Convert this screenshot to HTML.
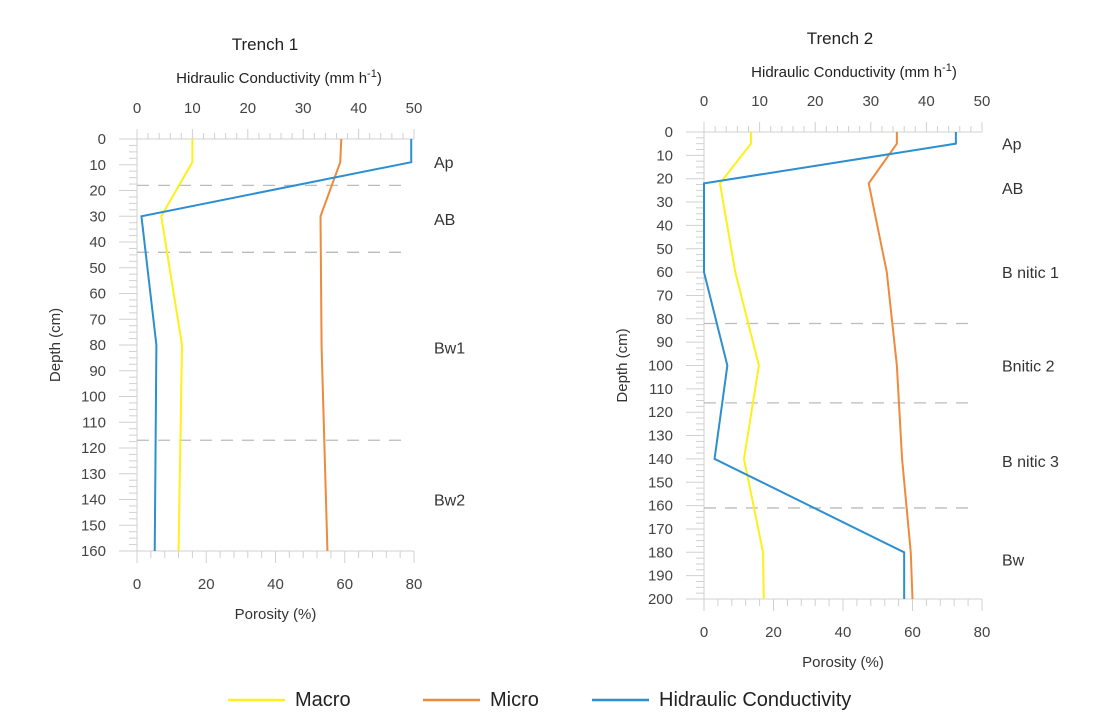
<!DOCTYPE html>
<html><head><meta charset="utf-8"><style>
body{margin:0;background:#fff;}
svg{display:block;font-family:"Liberation Sans",Arial,sans-serif;}
</style></head><body>
<svg id="c" width="1117" height="724" viewBox="0 0 1117 724"></svg>
<script>
// Trench 1 data (depth cm)
const t1Depth=[0,9,30,80,160];
const t1Macro=[16,16,7,13,12];
const t1Micro=[59,58.7,53,53.3,55];
const t1Hyd=[49.5,49.5,0.8,3.5,3.2];
const t1Horizons=["Ap","AB","Bw1","Bw2"];
const t1HorizonDepth=[9,31,81,140];
const t1Bounds=[18,44,117];
const t1DepthTicks=[0,10,20,30,40,50,60,70,80,90,100,110,120,130,140,150,160];
// Trench 2 data
const t2Depth=[0,5,22,60,100,140,180,200];
const t2Macro=[13.5,13.5,4.6,9,15.8,11.5,17,17.2];
const t2Micro=[55.5,55.5,47.4,52.6,55.5,57,59.5,60];
const t2Hyd=[45.3,45.3,0,0,4.2,1.9,36,36];
const t2Horizons=["Ap","AB","B nitic  1","Bnitic 2","B nitic 3","Bw"];
const t2HorizonDepth=[5,24,60,100,141,183];
const t2Bounds=[82,116,161];
const t2DepthTicks=[0,10,20,30,40,50,60,70,80,90,100,110,120,130,140,150,160,170,180,190,200];
const topTicks=[0,10,20,30,40,50];
const botTicks=[0,20,40,60,80];

const NS="http://www.w3.org/2000/svg";
const svg=document.getElementById('c');
function el(t,a,p){const e=document.createElementNS(NS,t);for(const k in a)e.setAttribute(k,a[k]);(p||svg).appendChild(e);return e;}
function txt(s,a,p){const e=el('text',a,p);e.textContent=s;return e;}

function panel(o){
  const g=el('g',{});
  
  
  const y=d=>o.y0+(o.y1-o.y0)*d/o.dmax;
  const xt=v=>o.x0+(o.x1-o.x0)*v/50;
  const xb=v=>o.x0+(o.x1-o.x0)*v/80;
  const grey='#d0d0d0';
  el('line',{x1:o.x0,y1:o.y0,x2:o.x1,y2:o.y0,stroke:grey,'stroke-width':1},g);
  el('line',{x1:o.x0,y1:o.y1,x2:o.x1,y2:o.y1,stroke:grey,'stroke-width':1},g);
  el('line',{x1:o.x0,y1:o.y0,x2:o.x0,y2:o.y1,stroke:grey,'stroke-width':1},g);
  for(let v=0;v<=50;v+=2){const L=v%10==0?10:6;el('line',{x1:xt(v),y1:o.y0,x2:xt(v),y2:o.y0-L,stroke:grey},g);}
  for(let v=0;v<=80;v+=4){const L=v%20==0?12:7;el('line',{x1:xb(v),y1:o.y1,x2:xb(v),y2:o.y1+L,stroke:grey},g);}
  for(let d=0;d<=o.dmax;d+=2.5){const L=d%10==0?18:8;el('line',{x1:o.x0,y1:y(d),x2:o.x0-L,y2:y(d),stroke:grey},g);}
  topTicks.forEach(v=>{const t=txt(v,{x:xt(v),y:o.y0-26,'font-size':15,fill:'#444','text-anchor':'middle'},g);});
  botTicks.forEach(v=>{const t=txt(v,{x:xb(v),y:o.y1+38,'font-size':15,fill:'#444','text-anchor':'middle'},g);});
  o.dticks.forEach(d=>{const t=txt(d,{x:o.x0-31,y:y(d)+5,'font-size':15,fill:'#444','text-anchor':'end'},g);});
  o.bounds.forEach(d=>{const l=el('line',{x1:o.x0,y1:y(d),x2:o.x1-5,y2:y(d),stroke:'#bbb','stroke-dasharray':'12 9','stroke-width':1.3},g);});
  const line=(vals,fx,col,nm)=>{const p=el('polyline',{points:vals.map((v,i)=>fx(v)+','+y(o.depth[i])).join(' '),fill:'none',stroke:col,'stroke-width':2},g);};
  line(o.macro,xb,'#ffef1a','macro-line');
  line(o.micro,xb,'#ee8a3c','micro-line');
  line(o.hyd,xt,'#2b8fd0','hydraulic-line');
  o.hor.forEach((h,i)=>{const t=txt(h,{x:o.hx,y:y(o.hd[i])+6,'font-size':16,fill:'#333'},g);});
  let t=txt(o.title,{x:o.tx,y:o.ty,'font-size':17,fill:'#222','text-anchor':'middle'},g);
  t=el('text',{x:o.tx+14,y:o.ty+33,'font-size':15,fill:'#222','text-anchor':'middle'},g);
  t.innerHTML='Hidraulic Conductivity (mm h<tspan dy="-6" font-size="11">-1</tspan><tspan dy="6">)</tspan>';
  
  t=txt('Porosity (%)',{x:(o.x0+o.x1)/2,y:o.y1+68,'font-size':15,fill:'#333','text-anchor':'middle'},g);
  t=txt('Depth (cm)',{x:0,y:0,'font-size':15,fill:'#333','text-anchor':'middle',transform:`translate(${o.yx},${(o.y0+o.y1)/2}) rotate(-90)`},g);
}
panel({name:'trench-1-chart',x0:137,x1:414,y0:139,y1:551,dmax:160,depth:t1Depth,macro:t1Macro,micro:t1Micro,hyd:t1Hyd,hor:t1Horizons,hd:t1HorizonDepth,bounds:t1Bounds,dticks:t1DepthTicks,hx:434,title:'Trench 1',tx:265,ty:50,yx:60});
panel({name:'trench-2-chart',x0:704,x1:982,y0:132,y1:599,dmax:200,depth:t2Depth,macro:t2Macro,micro:t2Micro,hyd:t2Hyd,hor:t2Horizons,hd:t2HorizonDepth,bounds:t2Bounds,dticks:t2DepthTicks,hx:1002,title:'Trench 2',tx:840,ty:44,yx:627});
const leg=[['Macro','#ffef1a',228],['Micro','#ee8a3c',423],['Hidraulic Conductivity','#2b8fd0',592]];
leg.forEach(([n,c,x])=>{
  const g=el('g',{});
  
  
  el('line',{x1:x,y1:700,x2:x+57,y2:700,stroke:c,'stroke-width':2.5},g);
  txt(n,{x:x+67,y:706,'font-size':20,fill:'#222'},g);
});
</script>
</body></html>
